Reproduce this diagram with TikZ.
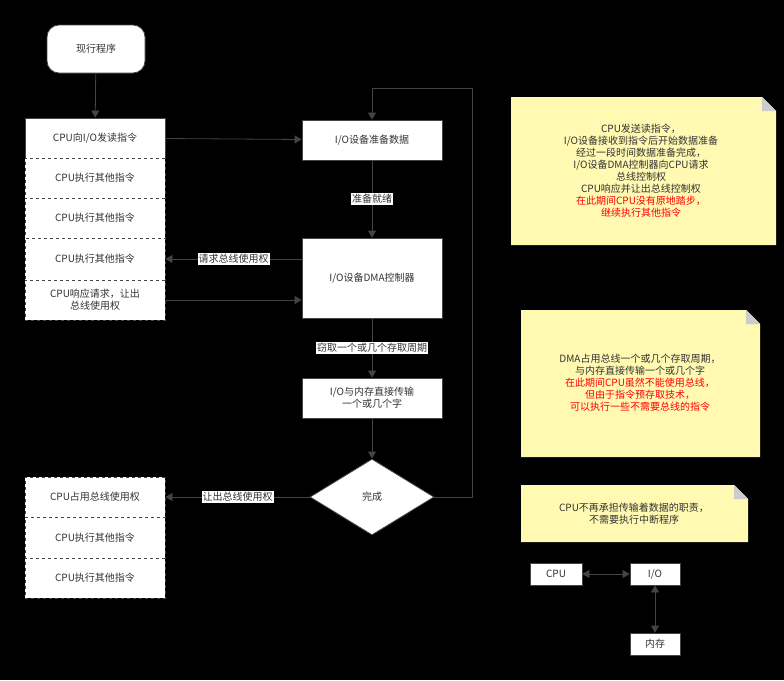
\documentclass[tikz,border=0pt]{standalone}
\usepackage{fontspec}
\setmainfont{Noto Sans CJK SC}
\usetikzlibrary{shapes.geometric,arrows.meta}
\definecolor{edge}{HTML}{444444}
\definecolor{notefill}{HTML}{FFF9B2}
\tikzset{
  box/.style={draw=edge, thick, fill=white, text=black!80, minimum width=140pt, minimum height=40pt, align=center, inner sep=1pt, font=\fontsize{10}{12}\selectfont},
  dbox/.style={box, dashed},
  conn/.style={draw=edge, thick, -{Triangle[width=8pt,length=7pt]}},
  lbl/.style={fill=white, inner sep=1pt, text=black!80, font=\fontsize{10}{12}\selectfont},
  note/.style={fill=notefill, align=center, font=\fontsize{10}{12}\selectfont, text=black!80},
}
\begin{document}
\begin{tikzpicture}[x=1pt, y=-1pt]
  \fill[black] (0,0) rectangle (784,680);
  \useasboundingbox (0,0) rectangle (784,680);

  % ====== left column ======
  \node[box, rounded corners=12pt, minimum width=98pt, minimum height=48pt] (start) at (96,49) {现行程序};
  \node[box] (send) at (95,138) {CPU向I/O发读指令};
  \node[dbox] (run1) at (95,178) {CPU执行其他指令};
  \node[dbox] (run2) at (95,218) {CPU执行其他指令};
  \node[dbox, minimum height=42pt] (run3) at (95,259) {CPU执行其他指令};
  \node[dbox] (yield) at (95,300) {CPU响应请求，让出\\总线使用权};
  \node[dbox] (hold) at (95,497) {CPU占用总线使用权};
  \node[dbox, minimum height=41pt] (run4) at (95,537.5) {CPU执行其他指令};
  \node[dbox] (run5) at (95,578) {CPU执行其他指令};

  % ====== right column ======
  \node[box] (prep) at (372,140) {I/O设备准备数据};
  \node[box, minimum height=80pt] (dma) at (372,278) {I/O设备DMA控制器};
  \node[box] (xfer) at (372,398) {I/O与内存直接传输\\一个或几个字};
  \node[draw=edge, thick, fill=white, diamond, aspect=1.6, minimum width=124pt, minimum height=76pt, inner sep=0pt, font=\fontsize{10}{12}\selectfont, text=black!80] (done) at (372,497) {完成};

  % ====== connectors ======
  \draw[conn] (start) -- (send);
  \draw[conn] (send) -- (prep);
  \draw[conn] (prep) -- node[lbl] {准备就绪} (dma);
  \draw[conn] (dma.west |- run3) -- node[lbl] {请求总线使用权} (run3.east);
  \draw[conn] (yield.east) -- (dma.west |- yield);
  \draw[conn] (dma) -- node[lbl] {窃取一个或几个存取周期} (xfer);
  \draw[conn] (xfer) -- (done);
  \draw[conn] (done.west) -- node[lbl] {让出总线使用权} (hold.east);
  \draw[conn] (done.east) -- (472,497) -- (472,88) -- (372,88) -- (prep.north);

  % ====== notes ======
  \fill[notefill] (511,97) -- (762,97) -- (776,111) -- (776,245) -- (511,245) -- cycle;
  \fill[gray!40] (762,97) -- (776,111) -- (762,111) -- cycle;
  \node[note] (note1) at (641,171) {CPU发送读指令，\\I/O设备接收到指令后开始数据准备\\经过一段时间数据准备完成，\\I/O设备DMA控制器向CPU请求\\总线控制权\\CPU响应并让出总线控制权\\\textcolor{red}{在此期间CPU没有原地踏步，}\\\textcolor{red}{继续执行其他指令}};
  \fill[notefill] (521,310) -- (746,310) -- (760,324) -- (760,457) -- (521,457) -- cycle;
  \fill[gray!40] (746,310) -- (760,324) -- (746,324) -- cycle;
  \node[note] (note2) at (640,383) {DMA占用总线一个或几个存取周期，\\与内存直接传输一个或几个字\\\textcolor{red}{在此期间CPU虽然不能使用总线，}\\\textcolor{red}{但由于指令预存取技术，}\\\textcolor{red}{可以执行一些不需要总线的指令}};
  \fill[notefill] (521,485) -- (734,485) -- (748,499) -- (748,542) -- (521,542) -- cycle;
  \fill[gray!40] (734,485) -- (748,499) -- (734,499) -- cycle;
  \node[note] (note3) at (634,514) {CPU不再承担传输着数据的职责，\\不需要执行中断程序};

  % ====== small sketch ======
  \node[box, minimum width=52pt, minimum height=22pt] (cpu) at (556,574) {CPU};
  \node[box, minimum width=50pt, minimum height=22pt] (io) at (655,574) {I/O};
  \node[box, minimum width=50pt, minimum height=22pt] (mem) at (655,644) {内存};
  \draw[conn, {Triangle[width=8pt,length=7pt]}-{Triangle[width=8pt,length=7pt]}] (cpu) -- (io);
  \draw[conn, {Triangle[width=8pt,length=7pt]}-{Triangle[width=8pt,length=7pt]}] (io) -- (mem);
\end{tikzpicture}
\end{document}
